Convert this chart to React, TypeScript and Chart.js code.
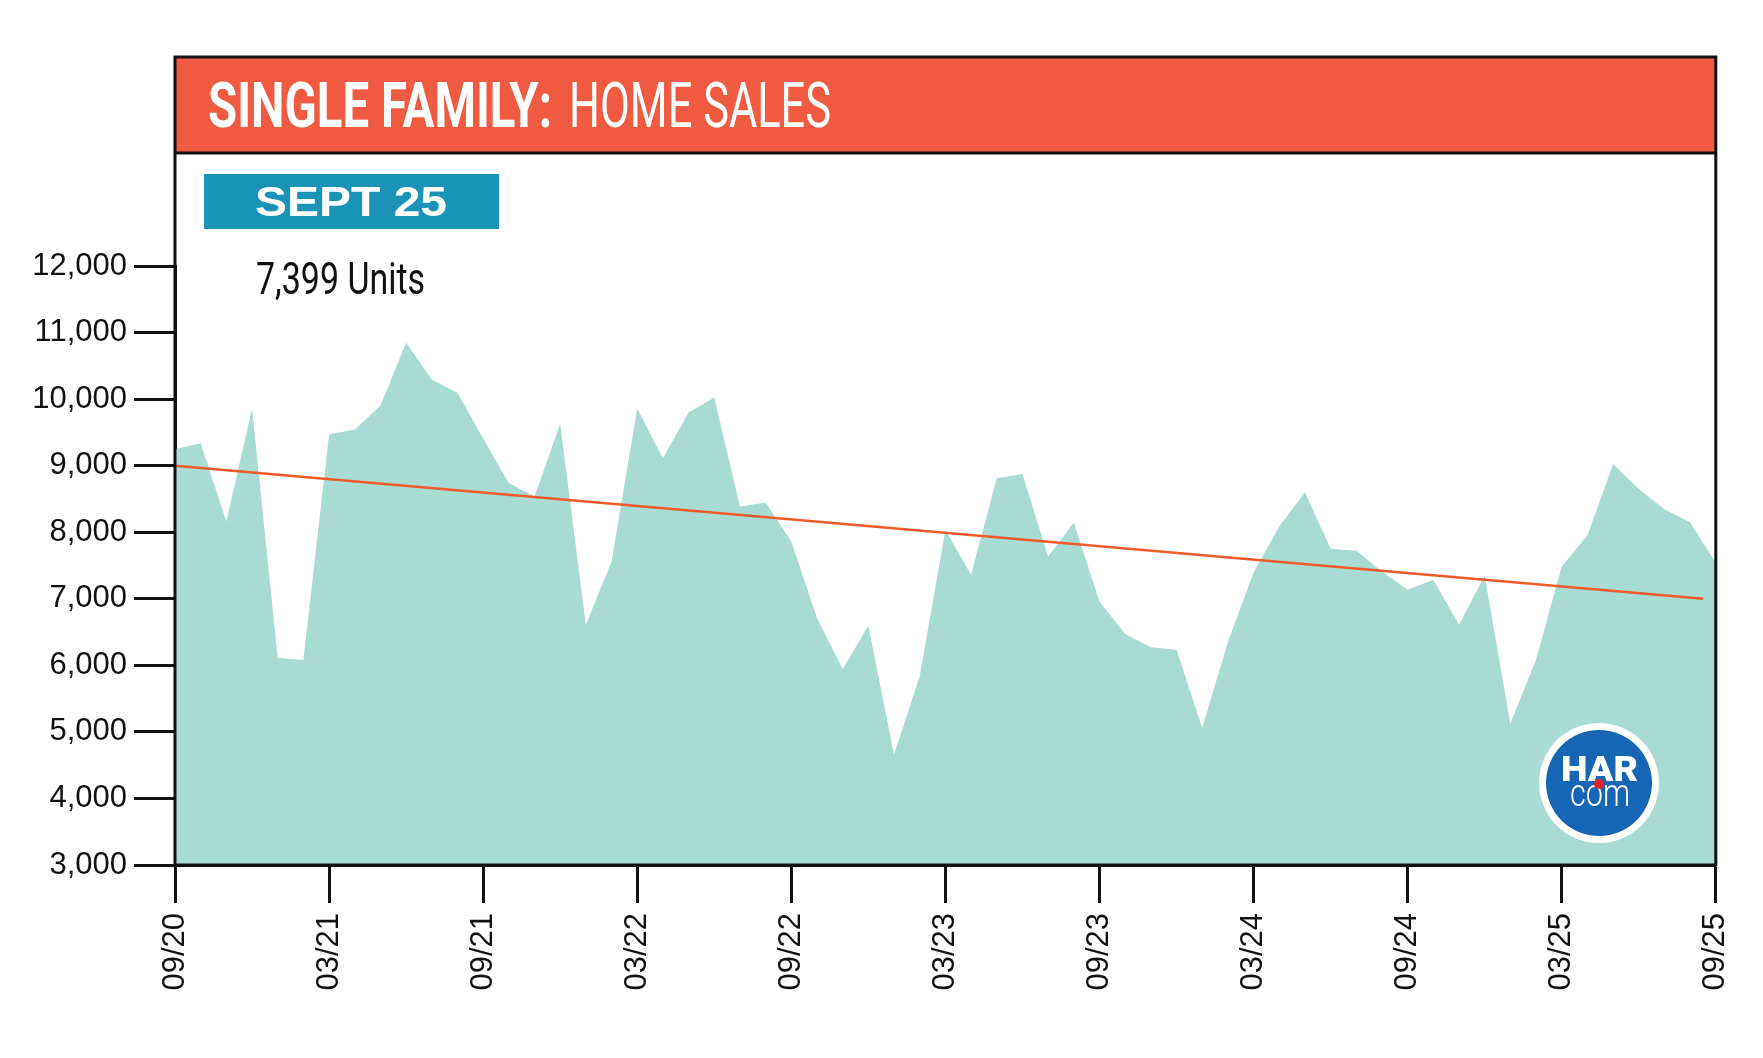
import React, { useEffect, useRef } from 'react';
import { Chart, registerables } from 'chart.js';

Chart.register(...registerables);

// ---- data ----
const months: string[] = [
  '09/20', '10/20', '11/20', '12/20',
  '01/21', '02/21', '03/21', '04/21', '05/21', '06/21', '07/21', '08/21', '09/21', '10/21', '11/21', '12/21',
  '01/22', '02/22', '03/22', '04/22', '05/22', '06/22', '07/22', '08/22', '09/22', '10/22', '11/22', '12/22',
  '01/23', '02/23', '03/23', '04/23', '05/23', '06/23', '07/23', '08/23', '09/23', '10/23', '11/23', '12/23',
  '01/24', '02/24', '03/24', '04/24', '05/24', '06/24', '07/24', '08/24', '09/24', '10/24', '11/24', '12/24',
  '01/25', '02/25', '03/25', '04/25', '05/25', '06/25', '07/25', '08/25', '09/25',
];

const homeSales: number[] = [
  9250, 9335, 8160, 9860, 6110, 6080, 9470, 9545, 9900, 10845, 10295, 10095,
  9410, 8735, 8535, 9625, 6610, 7560, 9860, 9110, 9800, 10025, 8385, 8445,
  7860, 6710, 5945, 6595, 4660, 5835, 8035, 7360, 8810, 8875, 7635, 8145,
  6960, 6470, 6270, 6235, 5060, 6345, 7395, 8085, 8600, 7750, 7720, 7410,
  7135, 7285, 6610, 7345, 5125, 6085, 7485, 7950, 9025, 8650, 8345, 8150,
  7540,
];

const trendIndex: number[] = [0, 59.5];
const trendValues: number[] = [9000, 7000];

const yTicks: number[] = [3000, 4000, 5000, 6000, 7000, 8000, 9000, 10000, 11000, 12000];

const titleBold = 'SINGLE FAMILY:';
const titleLight = 'HOME SALES';
const badgeText = 'SEPT 25';
const unitsText = '7,399 Units';

// ---- styles ----
const RED = '#f05a40';
const TEAL = '#a8dbd3';
const ORANGE = '#f25a29';
const BADGE = '#1b93b7';
const LOGO_BLUE = '#1666b5';
const W = 1763;
const H = 1058;

function fitText(ctx: CanvasRenderingContext2D, text: string, x: number, y: number, w: number, font: string, color: string) {
  ctx.save();
  ctx.font = font;
  ctx.fillStyle = color;
  ctx.textBaseline = 'alphabetic';
  ctx.textAlign = 'left';
  const m = ctx.measureText(text).width;
  ctx.translate(x, y);
  ctx.scale(w / m, 1);
  ctx.fillText(text, 0, 0);
  ctx.restore();
}

const framePlugin = {
  id: 'harFrame',
  afterDraw(chart: any) {
    const ctx: CanvasRenderingContext2D = chart.ctx;
    const { left, right, bottom } = chart.chartArea;
    const top = 57;
    const headerBottom = 153;
    ctx.save();
    // header band
    ctx.fillStyle = RED;
    ctx.fillRect(left, top, right - left, headerBottom - top);
    // frame
    ctx.strokeStyle = '#111';
    ctx.lineWidth = 3;
    ctx.strokeRect(left, top, right - left, bottom - top);
    ctx.beginPath();
    ctx.moveTo(left, headerBottom);
    ctx.lineTo(right, headerBottom);
    ctx.stroke();
    ctx.restore();

    // title
    fitText(ctx, titleBold, 208, 127, 344, 'bold 63px Roboto', '#ffffff');
    fitText(ctx, titleLight, 569, 127, 262, '400 63px Roboto', '#ffffff');

    // badge
    ctx.save();
    ctx.fillStyle = BADGE;
    ctx.fillRect(204, 174, 295, 55);
    ctx.restore();
    fitText(ctx, badgeText, 255, 216, 192, 'bold 42px "Liberation Sans", Arial, sans-serif', '#ffffff');

    // units
    fitText(ctx, unitsText, 256, 294, 169, '400 45px Roboto', '#111111');

    // logo
    const cx = 1599;
    const cy = 783;
    ctx.save();
    ctx.fillStyle = '#ffffff';
    ctx.beginPath();
    ctx.arc(cx, cy, 60, 0, Math.PI * 2);
    ctx.fill();
    ctx.fillStyle = LOGO_BLUE;
    ctx.beginPath();
    ctx.arc(cx, cy, 53, 0, Math.PI * 2);
    ctx.fill();
    ctx.restore();
    fitText(ctx, 'HAR', 1561, 781, 77, '900 35px Roboto', '#ffffff');
    fitText(ctx, 'com', 1570, 806, 60, '300 38px Roboto', '#ffffff');
    ctx.save();
    ctx.fillStyle = '#e8202a';
    ctx.beginPath();
    ctx.arc(cx, 784, 5, 0, Math.PI * 2);
    ctx.fill();
    ctx.restore();
  },
};

export default function App() {
  const canvasRef = useRef<HTMLCanvasElement | null>(null);

  useEffect(() => {
    document.body.style.margin = '0';
    const canvas = canvasRef.current;
    if (!canvas) return;

    const areaData = homeSales.map((v, i) => ({ x: i, y: v }));
    const trendData = trendIndex.map((x, i) => ({ x, y: trendValues[i] }));

    const chart = new Chart(canvas, {
      type: 'line',
      data: {
        datasets: [
          {
            label: 'Trend',
            data: trendData,
            borderColor: ORANGE,
            borderWidth: 2.5,
            pointRadius: 0,
            fill: false,
            tension: 0,
            order: 0,
          },
          {
            label: 'Home Sales',
            data: areaData,
            borderColor: TEAL,
            borderWidth: 0,
            backgroundColor: TEAL,
            pointRadius: 0,
            fill: 'start',
            tension: 0,
            order: 1,
          },
        ],
      },
      options: {
        responsive: false,
        animation: false,
        devicePixelRatio: 1,
        layout: { padding: { left: 0, right: W - 1716, top: 266, bottom: 0 } },
        plugins: {
          legend: { display: false },
          tooltip: { enabled: false },
          title: { display: false },
        },
        scales: {
          x: {
            type: 'linear',
            min: 0,
            max: months.length - 1,
            afterFit: (s: any) => { s.height = H - 865; },
            grid: {
              drawOnChartArea: false,
              drawTicks: true,
              tickLength: 38,
              tickWidth: 3,
              tickColor: '#111',
            },
            border: { display: true, color: '#111', width: 3 },
            ticks: {
              stepSize: 6,
              autoSkip: false,
              minRotation: 90,
              maxRotation: 90,
              padding: 10,
              color: '#111',
              font: { family: '"Liberation Sans", Arial, sans-serif', size: 31 },
              callback: (v: any) => months[Math.round(Number(v))] ?? '',
            },
          },
          y: {
            type: 'linear',
            min: yTicks[0],
            max: yTicks[yTicks.length - 1],
            afterFit: (s: any) => { s.width = 175; },
            afterBuildTicks: (s: any) => { s.ticks = yTicks.map((v) => ({ value: v })); },
            grid: {
              drawOnChartArea: false,
              drawTicks: true,
              tickLength: 41,
              tickWidth: 3,
              tickColor: '#111',
            },
            border: { display: true, color: '#111', width: 3 },
            ticks: {
              padding: 7,
              color: '#111',
              font: { family: '"Liberation Sans", Arial, sans-serif', size: 31 },
              callback: (v: any) => Number(v).toLocaleString('en-US'),
            },
          },
        },
      },
      plugins: [framePlugin],
    });

    return () => chart.destroy();
  }, []);

  return (
    <div style={{ position: 'relative', width: W, height: H, background: '#fff' }}>
      <canvas ref={canvasRef} width={W} height={H} style={{ width: W, height: H, display: 'block' }} />
    </div>
  );
}
